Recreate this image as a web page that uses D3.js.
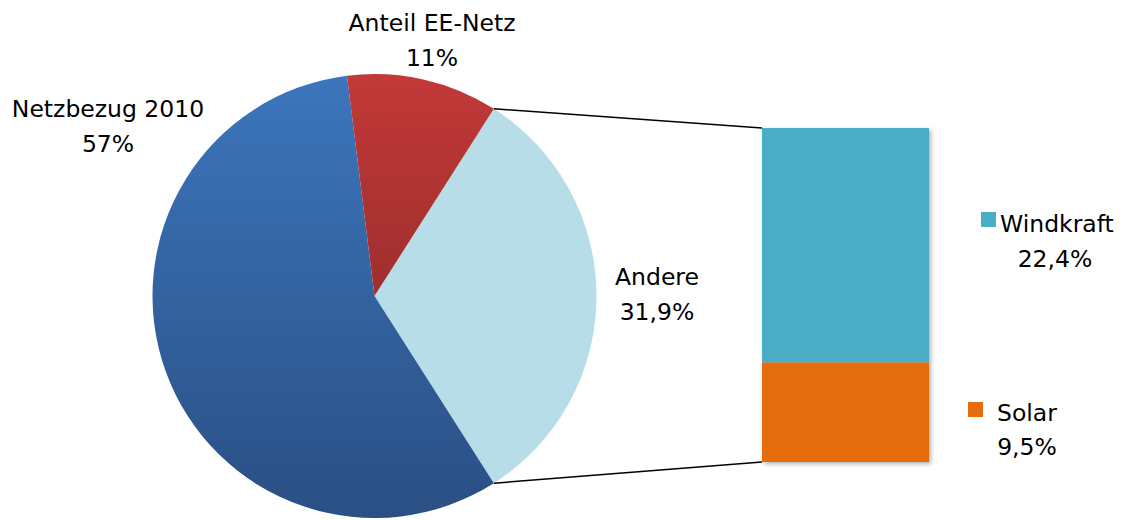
<!DOCTYPE html>
<html>
<head>
<meta charset="utf-8">
<script src="https://cdn.jsdelivr.net/npm/d3@7"></script>
<style>
  body { margin: 0; background: #fff; }
  text { font-family: "DejaVu Sans", sans-serif; font-size: 23.5px; fill: #000; }
</style>
</head>
<body>
<div id="viz"></div>
<script>
// pie data
var pieNames = ['Andere', 'Netzbezug 2010', 'Anteil EE-Netz'];
var pieValues = [31.9, 57, 11];
var pieLabels = ['31,9%', '57%', '11%'];

// bar (split of "Andere")
var barNames = ['Windkraft', 'Solar'];
var barValues = [22.4, 9.5];
var barLabels = ['22,4%', '9,5%'];

var width = 1131,
    height = 520;

var svg = d3.select('#viz').append('svg')
  .attr('width', width)
  .attr('height', height)

var cx = 374.5, cy = 296, r = 222;

var defs = svg.append('defs');
// gradients live in the pie group's coordinates (centre = 0,0)
function vgrad(id, c1, c2) {
  var g = defs.append('linearGradient').attr('id', id)
    .attr('gradientUnits', 'userSpaceOnUse')
    .attr('x1', 0).attr('y1', -r).attr('x2', 0).attr('y2', r);
  g.append('stop').attr('offset', '0%').attr('stop-color', c1);
  g.append('stop').attr('offset', '100%').attr('stop-color', c2);
}
vgrad('gBlue', '#3c76bc', '#2a4f84');
vgrad('gRed', '#c23938', '#7a2423');

var sh = defs.append('filter').attr('id', 'shadow').attr('x', '-10%').attr('y', '-10%').attr('width', '130%').attr('height', '130%');
sh.append('feDropShadow').attr('dx', 2).attr('dy', 2).attr('stdDeviation', 2).attr('flood-opacity', 0.3);

var fills = ['#b7dde8', 'url(#gBlue)', 'url(#gRed)'];

// Andere centred on the right side
var andereAngle = pieValues[0] / d3.sum(pieValues) * 2 * Math.PI;
var start = Math.PI / 2 - andereAngle / 2;

var pie = d3.pie().sort(null).value(function(d){ return d; })
  .startAngle(start).endAngle(start + 2 * Math.PI);
var arcs = pie(pieValues);
var arc = d3.arc().innerRadius(0).outerRadius(r);

var gPie = svg.append('g').attr('transform', 'translate(' + cx + ',' + cy + ')');
gPie.selectAll('path')
  .data(arcs)
  .enter()
  .append('path')
  .attr('d', arc)
  .attr('fill', function(d, i){ return fills[i]; })
  .attr('stroke', 'none')

// bar
var barX = 762, barW = 167, barTop = 128, barBottom = 462;
var yScale = d3.scaleLinear()
  .domain([0, d3.sum(barValues)])
  .range([barTop, barBottom]);
var barColors = ['#4bacc6', '#e46c0a'];
var cum = 0;
var stack = barValues.map(function(v){ var o = {y0: cum, y1: cum + v}; cum += v; return o; });

svg.append('g').attr('filter', 'url(#shadow)')
  .selectAll('rect')
  .data(stack)
  .enter()
  .append('rect')
  .attr('x', barX)
  .attr('width', barW)
  .attr('y', function(d){ return yScale(d.y0); })
  .attr('height', function(d){ return yScale(d.y1) - yScale(d.y0); })
  .attr('fill', function(d, i){ return barColors[i]; })

// connector lines
var a0 = arcs[0];
function pt(a) { return [cx + r * Math.sin(a), cy - r * Math.cos(a)]; }
var p1 = pt(a0.startAngle), p2 = pt(a0.endAngle);
svg.append('line').attr('x1', p1[0]).attr('y1', p1[1]).attr('x2', barX).attr('y2', yScale(0))
  .attr('stroke', '#000').attr('stroke-width', 1.5)
svg.append('line').attr('x1', p2[0]).attr('y1', p2[1]).attr('x2', barX).attr('y2', yScale(d3.sum(barValues)))
  .attr('stroke', '#000').attr('stroke-width', 1.5)

// pie labels
var pieLabelPos = [[657, 285], [108, 117], [432, 31]];
pieLabelPos.forEach(function(p, i){
  var t = svg.append('text').attr('text-anchor', 'middle');
  t.append('tspan').attr('x', p[0]).attr('y', p[1]).text(pieNames[i]);
  t.append('tspan').attr('x', p[0]).attr('y', p[1] + 35).text(pieLabels[i]);
})

// bar legend labels
var legPos = [[981, 212, 1000, 232, 1055, 267], [968, 402, 997, 421, 1027, 455]];
legPos.forEach(function(p, i){
  svg.append('rect').attr('x', p[0]).attr('y', p[1]).attr('width', 15).attr('height', 15)
    .attr('fill', barColors[i]);
  svg.append('text').attr('x', p[2]).attr('y', p[3]).text(barNames[i]);
  svg.append('text').attr('x', p[4]).attr('y', p[5]).attr('text-anchor', 'middle').text(barLabels[i]);
})
</script>
</body>
</html>
